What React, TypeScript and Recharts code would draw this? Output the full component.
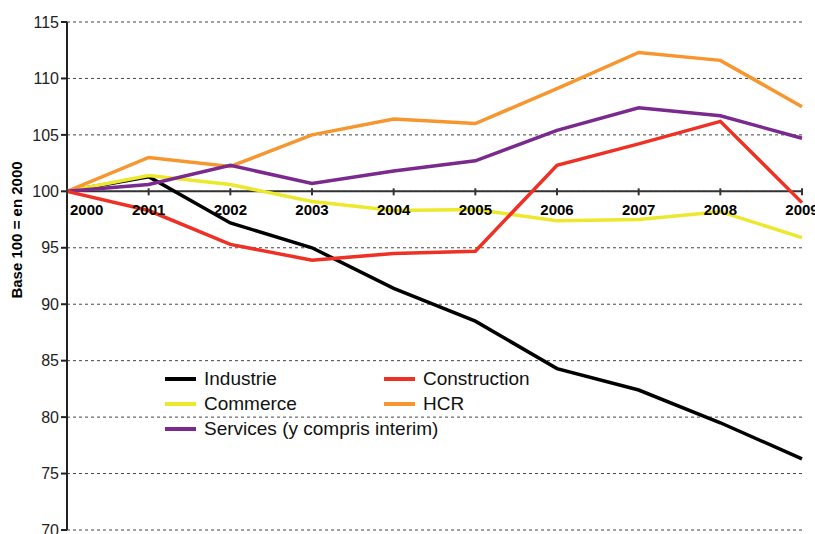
import {
  LineChart,
  Line,
  XAxis,
  YAxis,
  CartesianGrid,
  ReferenceLine,
  ReferenceDot,
} from 'recharts';

const years = ['2000', '2001', '2002', '2003', '2004', '2005', '2006', '2007', '2008', '2009'];
const industrie = [100, 101.3, 97.2, 95.0, 91.4, 88.5, 84.3, 82.4, 79.5, 76.3];
const construction = [100, 98.3, 95.3, 93.9, 94.5, 94.7, 102.3, 104.2, 106.2, 99.0];
const commerce = [100, 101.4, 100.6, 99.1, 98.3, 98.4, 97.4, 97.5, 98.2, 95.9];
const hcr = [100, 103.0, 102.2, 105.0, 106.4, 106.0, 109.1, 112.3, 111.6, 107.5];
const services = [100, 100.6, 102.3, 100.7, 101.8, 102.7, 105.4, 107.4, 106.7, 104.7];
const yTicks = [70, 75, 80, 85, 90, 95, 100, 105, 110, 115];

const series = [
  { key: 'industrie', name: 'Industrie', color: '#000000' },
  { key: 'commerce', name: 'Commerce', color: '#ece82c' },
  { key: 'hcr', name: 'HCR', color: '#f7962f' },
  { key: 'services', name: 'Services (y compris interim)', color: '#7a2a8e' },
  { key: 'construction', name: 'Construction', color: '#ee3124' },
];

// legend order as in the picture (two columns)
const legendOrder = ['industrie', 'construction', 'commerce', 'hcr', 'services'];

const data = years.map((year, i) => ({
  year,
  industrie: industrie[i],
  construction: construction[i],
  commerce: commerce[i],
  hcr: hcr[i],
  services: services[i],
}));

const font = 'Liberation Sans, Arial, sans-serif';

function YearMark(props: any) {
  const { cx, cy, year, first } = props;
  return (
    <g>
      <line x1={cx} x2={cx} y1={cy - 3} y2={cy + 4} stroke="#333" strokeWidth={2} />
      <text
        x={first ? cx + 3 : cx}
        y={cy + 24}
        textAnchor={first ? 'start' : 'middle'}
        fontFamily={font}
        fontWeight="bold"
        fontSize={15}
        fill="#000"
      >
        {year}
      </text>
    </g>
  );
}

function LegendBox() {
  return (
    <div
      style={{
        position: 'absolute',
        left: 165,
        top: 367,
        fontFamily: font,
        fontSize: 19,
        color: '#111',
        pointerEvents: 'none',
      }}
    >
      {legendOrder.map((k, i) => {
        const s = series.find((x) => x.key === k)!;
        return (
          <div
            key={k}
            style={{
              position: 'absolute',
              left: (i % 2) * 219,
              top: Math.floor(i / 2) * 25,
              display: 'flex',
              alignItems: 'center',
              whiteSpace: 'nowrap',
              lineHeight: '24px',
            }}
          >
            <span style={{ display: 'inline-block', width: 31, height: 4, background: s.color, marginRight: 8 }} />
            <span>{s.name}</span>
          </div>
        );
      })}
    </div>
  );
}

function YLabel(props: any) {
  const { x, y, height } = props.viewBox;
  const cx = x + 22;
  const cy = y + height / 2 - 46;
  return (
    <text
      x={cx}
      y={cy}
      transform={`rotate(-90 ${cx} ${cy})`}
      textAnchor="middle"
      fontFamily={font}
      fontWeight="bold"
      fontSize={15}
      fill="#000"
    >
      Base 100 = en 2000
    </text>
  );
}

export default function App() {
  return (
    <div style={{ position: 'absolute', left: 0, top: 0, width: 815, height: 534 }}>
      <LineChart width={815} height={534} data={data} margin={{ top: 22, right: 13, bottom: 4, left: 0 }}>
        <CartesianGrid vertical={false} stroke="#444" strokeDasharray="3 3" />
        <XAxis dataKey="year" hide />
        <YAxis
          domain={[70, 115]}
          ticks={yTicks}
          width={67}
          interval={0}
          axisLine={{ stroke: '#222', strokeWidth: 2 }}
          tickLine={{ stroke: '#222', strokeWidth: 2 }}
          tickSize={6}
          tick={{ fontFamily: font, fontSize: 16, fill: '#222' }}
          label={{ content: YLabel }}
        />
        <ReferenceLine y={100} stroke="#333" strokeWidth={2} />
        {years.map((y, i) => (
          <ReferenceDot
            key={y}
            x={y}
            y={100}
            r={0}
            ifOverflow="visible"
            shape={(p: any) => <YearMark {...p} year={y} first={i === 0} />}
          />
        ))}
        {series.map((s) => (
          <Line
            key={s.key}
            type="linear"
            dataKey={s.key}
            name={s.name}
            stroke={s.color}
            strokeWidth={3.5}
            dot={false}
            activeDot={false}
            isAnimationActive={false}
          />
        ))}
      </LineChart>
      <LegendBox />
    </div>
  );
}
